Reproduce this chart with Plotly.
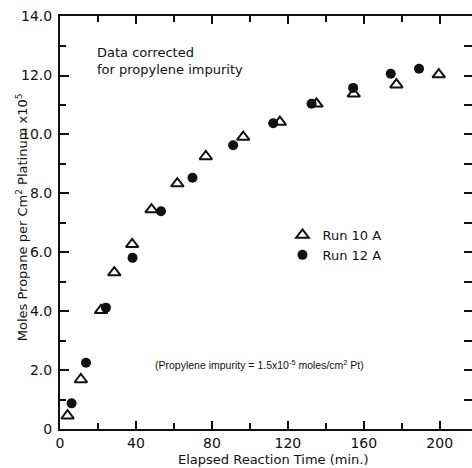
import plotly.graph_objects as go

# Run 10 A (open triangles)
run10_time = [4, 11, 21.6, 28.6, 38, 48.2, 61.8, 76.8, 96.5, 115.8, 135.1, 154.7, 177.2, 199.5]
run10_moles = [0.45, 1.68, 4.03, 5.31, 6.27, 7.45, 8.33, 9.25, 9.91, 10.42, 11.04, 11.38, 11.69, 12.03]

# Run 12 A (filled circles)
run12_time = [6.1, 13.7, 24.2, 38.2, 53.2, 69.8, 91.2, 112.3, 132.5, 154.4, 174.2, 189.1]
run12_moles = [0.87, 2.25, 4.12, 5.81, 7.39, 8.53, 9.63, 10.38, 11.04, 11.58, 12.06, 12.23]

x_tickvals = [0, 40, 80, 120, 160, 200]
x_ticktext = ["0", "40", "80", "120", "160", "200"]
y_tickvals = [0, 2, 4, 6, 8, 10, 12, 14]
y_ticktext = ["0", "2.0", "4.0", "6.0", "8.0", "10.0", "12.0", "14.0"]

FONT = "DejaVu Sans"
INK = "#111111"

fig = go.Figure()
fig.add_trace(go.Scatter(
    x=run10_time, y=run10_moles, mode="markers", name="Run 10 A",
    marker=dict(symbol="triangle-up-open", size=11, color=INK, line=dict(width=2, color=INK)),
))
fig.add_trace(go.Scatter(
    x=run12_time, y=run12_moles, mode="markers", name="Run 12 A",
    marker=dict(symbol="circle", size=10, color=INK),
))
# invisible trace to drive right-hand ticks
fig.add_trace(go.Scatter(x=[None], y=[None], yaxis="y2", showlegend=False, hoverinfo="skip"))

fig.update_layout(
    width=472, height=468,
    margin=dict(l=60, r=0, t=16, b=39),
    paper_bgcolor="white", plot_bgcolor="white",
    font=dict(family=FONT, size=13, color=INK),
    xaxis=dict(range=[0, 217], tickvals=x_tickvals, ticktext=x_ticktext,
               ticks="inside", ticklen=8, tickwidth=1.5, tickcolor=INK,
               minor=dict(dtick=20, tick0=0, ticks="inside", ticklen=6, tickwidth=1.5, tickcolor=INK),
               tickfont=dict(family=FONT, size=14, color=INK),
               showgrid=False, zeroline=False,
               showline=True, linewidth=2, linecolor=INK, mirror="ticks"),
    yaxis=dict(range=[0, 14.02], tickvals=y_tickvals, ticktext=y_ticktext,
               ticks="inside", ticklen=9, tickwidth=1.5, tickcolor=INK,
               minor=dict(dtick=1, tick0=0, ticks="inside", ticklen=6, tickwidth=1.5, tickcolor=INK),
               tickfont=dict(family=FONT, size=14, color=INK), ticklabelstandoff=3,
               showgrid=False, zeroline=False,
               showline=True, linewidth=2, linecolor=INK),
    yaxis2=dict(range=[0, 14.02], overlaying="y", side="right", dtick=1, tick0=0,
                showticklabels=False, ticks="inside", ticklen=8, tickwidth=1.5, tickcolor=INK,
                showline=False, showgrid=False, zeroline=False),
    legend=dict(x=0.54, y=0.506, xanchor="left", yanchor="top", bgcolor="rgba(0,0,0,0)",
                font=dict(family=FONT, size=13, color=INK), tracegroupgap=0),
    showlegend=True,
)

fig.add_annotation(xref="paper", yref="paper", x=-0.092, y=0.513,
                   text="Moles Propane per Cm<sup>2</sup> Platinum x10<sup>5</sup>",
                   textangle=-90, showarrow=False, font=dict(family=FONT, size=13, color=INK),
                   xanchor="center", yanchor="middle")
fig.add_annotation(xref="paper", yref="paper", x=0.517, y=-0.075,
                   text="Elapsed Reaction Time (min.)", showarrow=False,
                   font=dict(family=FONT, size=13, color=INK), xanchor="center", yanchor="middle")
fig.add_annotation(xref="paper", yref="paper", x=0.085, y=0.89,
                   text="Data corrected<br>for propylene impurity", showarrow=False, align="left",
                   font=dict(family=FONT, size=13, color=INK), xanchor="left", yanchor="middle")
fig.add_annotation(xref="paper", yref="paper", x=0.226, y=0.157,
                   text="(Propylene impurity = 1.5x10<sup>-5</sup> moles/cm<sup>2</sup> Pt)",
                   showarrow=False, font=dict(family="Liberation Sans", size=10.5, color=INK),
                   xanchor="left", yanchor="middle")

fig.write_html(
    "out.html",
    config={"displayModeBar": False},
    post_script="document.body.style.margin='0px';document.body.style.overflow='hidden';",
)
